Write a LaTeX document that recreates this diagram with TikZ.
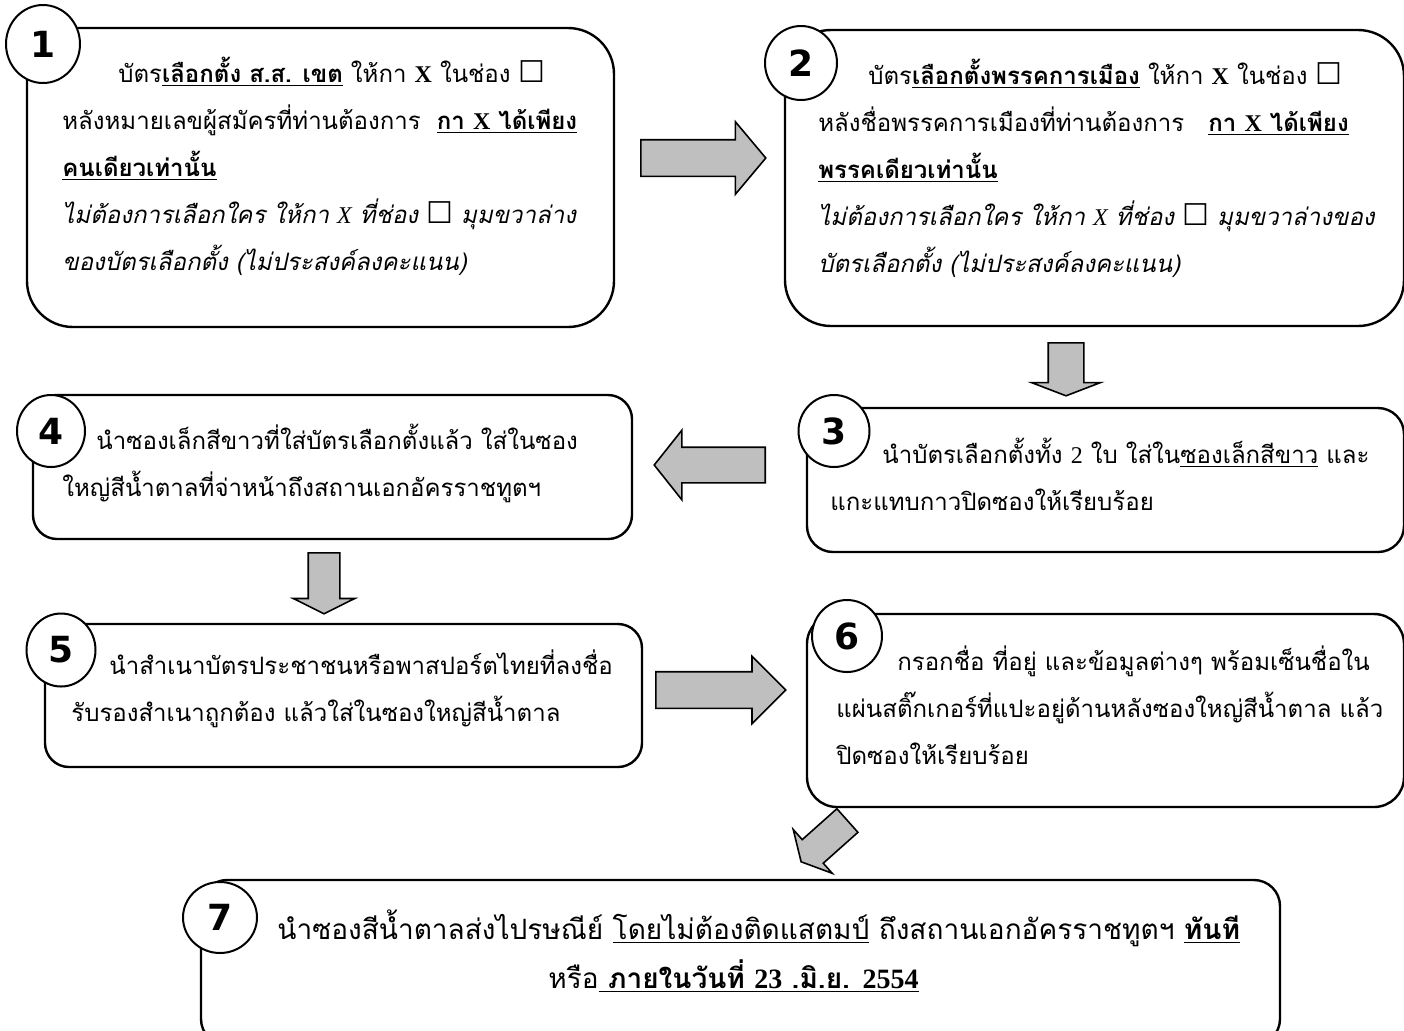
\documentclass[tikz,border=0pt]{standalone}
\usepackage{fontspec}
\setmainfont{Liberation Serif}
\newfontfamily\thaifont[Script=Thai]{Loma}
\newfontfamily\numfont{DejaVu Sans}
\usetikzlibrary{shapes.geometric,shapes.arrows}
\newcommand{\chk}{{\numfont\fontsize{15pt}{15pt}\selectfont\symbol{"2610}}}

\begin{document}
\begin{tikzpicture}[
  x=0.5pt, y=-0.5pt,
  box/.style={rectangle, draw, line width=1.2pt},
  numc/.style={ellipse, draw, line width=1pt, fill=white, inner sep=0pt, font=\numfont\bfseries\fontsize{18pt}{18pt}\selectfont},
  txt/.style={align=left, inner sep=0pt, anchor=west, font=\thaifont\fontsize{12pt}{23.5pt}\selectfont},
  fatarrow/.style={single arrow, draw, line width=0.8pt, fill=gray!50, inner sep=0pt, anchor=tail}
]
\useasboundingbox (0,0) rectangle (1404,1030);

% boxes
\node[box, rounded corners=23pt, minimum width=293.5pt, minimum height=149.5pt] (mpcard) at (320.5,177.5) {};
\node[box, rounded corners=23pt, minimum width=309.5pt, minimum height=148pt] (partycard) at (1094.5,178) {};
\node[box, rounded corners=13pt, minimum width=298.5pt, minimum height=72pt] (seal) at (1105.5,480) {};
\node[box, rounded corners=12pt, minimum width=299.5pt, minimum height=72pt] (bigenv) at (332.5,467) {};
\node[box, rounded corners=12pt, minimum width=298.5pt, minimum height=71.5pt] (idcopy) at (343.5,695.5) {};
\node[box, rounded corners=15pt, minimum width=298.5pt, minimum height=96.5pt] (sticker) at (1105.5,710.5) {};
\node[box, rounded corners=13pt, minimum width=539.5pt, minimum height=82.5pt] (post) at (740.5,962.5) {};

% numbers
\node[numc, minimum width=37pt, minimum height=39pt] (n1) at (43,44) {1};
\node[numc, minimum width=36pt, minimum height=37pt] (n2) at (801,63) {2};
\node[numc, minimum width=35.5pt, minimum height=36pt] (n3) at (834,431) {3};
\node[numc, minimum width=34pt, minimum height=36pt] (n4) at (51,431) {4};
\node[numc, minimum width=34.5pt, minimum height=36.5pt] (n5) at (61,650) {5};
\node[numc, minimum width=35pt, minimum height=36pt] (n6) at (847,636) {6};
\node[numc, minimum width=37pt, minimum height=35.5pt] (n7) at (220,917.5) {7};

% texts
\node[txt] (mptext) at (62,166) {\hspace*{28pt}บัตร\underline{\textbf{เลือกตั้ง ส.ส. เขต}} ให้กา {\rmfamily\bfseries X} ในช่อง \chk\\
  หลังหมายเลขผู้สมัครที่ท่านต้องการ\ \ \underline{\textbf{กา {\rmfamily X} ได้เพียง}}\\
  \underline{\textbf{คนเดียวเท่านั้น}}\\
  \textit{ไม่ต้องการเลือกใคร ให้กา {\rmfamily X} ที่ช่อง \chk\ มุมขวาล่าง}\\
  \textit{ของบัตรเลือกตั้ง (ไม่ประสงค์ลงคะแนน)}};
\node[txt] (partytext) at (818,168) {\hspace*{25pt}บัตร\underline{\textbf{เลือกตั้งพรรคการเมือง}} ให้กา {\rmfamily\bfseries X} ในช่อง \chk\\
  หลังชื่อพรรคการเมืองที่ท่านต้องการ\ \ \ \underline{\textbf{กา {\rmfamily X} ได้เพียง}}\\
  \underline{\textbf{พรรคเดียวเท่านั้น}}\\
  \textit{ไม่ต้องการเลือกใคร ให้กา {\rmfamily X} ที่ช่อง \chk\ มุมขวาล่างของ}\\
  \textit{บัตรเลือกตั้ง (ไม่ประสงค์ลงคะแนน)}};
\node[txt] (sealtext) at (830,474.5) {\hspace*{26pt}นำบัตรเลือกตั้งทั้ง {\rmfamily 2} ใบ ใส่ใน\underline{ซองเล็กสีขาว} และ\\
  แกะแทบกาวปิดซองให้เรียบร้อย};
\node[txt] (bigenvtext) at (62,463.5) {\hspace*{17pt}นำซองเล็กสีขาวที่ใส่บัตรเลือกตั้งแล้ว ใส่ในซอง\\
  ใหญ่สีน้ำตาลที่จ่าหน้าถึงสถานเอกอัครราชทูตฯ};
\node[txt] (idcopytext) at (71,688.5) {\hspace*{19pt}นำสำเนาบัตรประชาชนหรือพาสปอร์ตไทยที่ลงชื่อ\\
  รับรองสำเนาถูกต้อง แล้วใส่ในซองใหญ่สีน้ำตาล};
\node[txt] (stickertext) at (836,705) {\hspace*{30.5pt}กรอกชื่อ ที่อยู่ และข้อมูลต่างๆ พร้อมเซ็นชื่อใน\\
  แผ่นสติ๊กเกอร์ที่แปะอยู่ด้านหลังซองใหญ่สีน้ำตาล แล้ว\\
  ปิดซองให้เรียบร้อย};
\node[txt, font=\thaifont\fontsize{14pt}{24.5pt}\selectfont] (posttext) at (277,951) {นำซองสีน้ำตาลส่งไปรษณีย์ \underline{โดยไม่ต้องติดแสตมป์} ถึงสถานเอกอัครราชทูตฯ \underline{\textbf{ทันที}}\\
  \hspace*{135.5pt}หรือ\underline{\textbf{ ภายในวันที่ {\rmfamily 23} .มิ.ย. {\rmfamily 2554}}}};

% block arrows
\node[fatarrow, minimum height=62.5pt, inner ysep=8.75pt, single arrow head extend=9pt, single arrow tip angle=100] (a12) at (640,158) {};
\node[fatarrow, rotate=-90, minimum height=26.5pt, inner ysep=8.5pt, single arrow head extend=8.25pt, single arrow tip angle=138] (a23) at (1066,342) {};
\node[fatarrow, rotate=180, minimum height=55.5pt, inner ysep=8.5pt, single arrow head extend=8.5pt, single arrow tip angle=103] (a34) at (766,465) {};
\node[fatarrow, rotate=-90, minimum height=30.5pt, inner ysep=7.5pt, single arrow head extend=7.5pt, single arrow tip angle=127] (a45) at (324,552) {};
\node[fatarrow, minimum height=65pt, inner ysep=8.75pt, single arrow head extend=7.75pt, single arrow tip angle=90] (a56) at (655,690) {};
\node[fatarrow, rotate=221.7, minimum height=31pt, inner ysep=7.5pt, single arrow head extend=6.75pt, single arrow tip angle=124] (a67) at (848,820) {};

\end{tikzpicture}
\end{document}
